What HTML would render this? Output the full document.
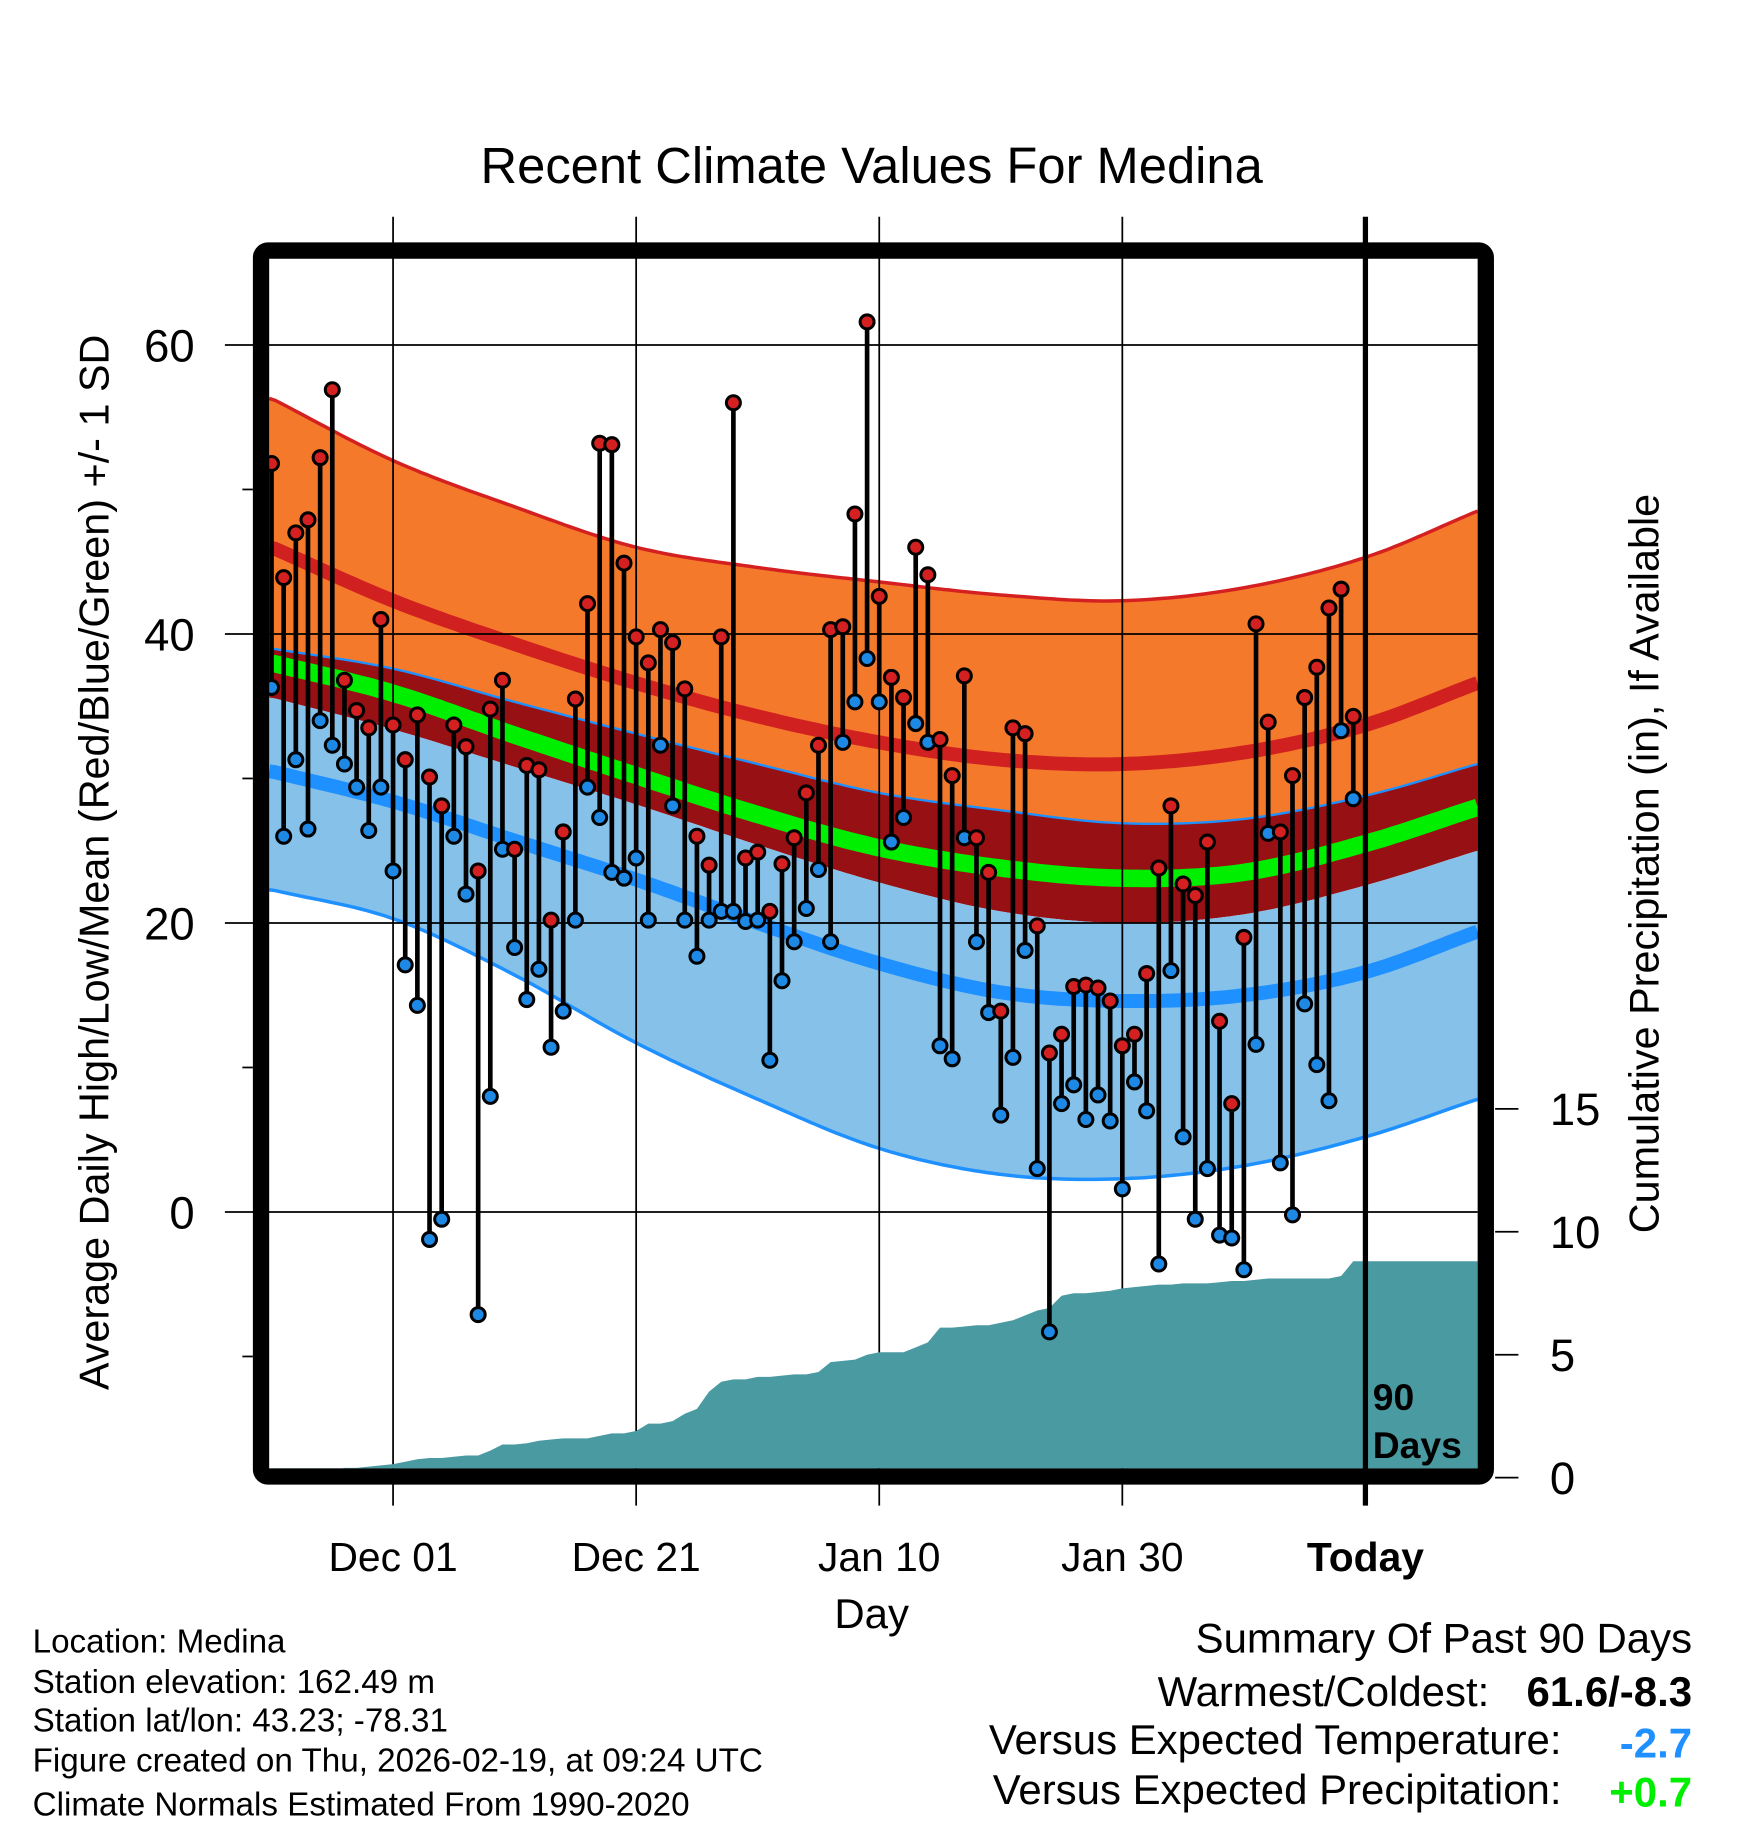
<!DOCTYPE html>
<html><head><meta charset="utf-8"><style>
html,body{margin:0;padding:0;background:#fff}
svg{display:block;font-family:"Liberation Sans",sans-serif}
</style></head><body>
<svg id="chart" width="1748" height="1828" viewBox="0 0 1500 1568.6" xmlns="http://www.w3.org/2000/svg">
<text x="748" y="157" font-size="43.5" text-anchor="middle">Recent Climate Values For Medina</text>
<g id="bands"></g>
<g id="grid"></g>
<g id="precip"></g>
<g id="marks"></g>
<rect x="224" y="215" width="1051" height="1052" rx="6" fill="none" stroke="#000" stroke-width="14"/>
<g id="axes"></g>
<text transform="translate(93,740) rotate(-90)" font-size="35.5" text-anchor="middle">Average Daily High/Low/Mean (Red/Blue/Green) +/- 1 SD</text>
<text transform="translate(1423,741) rotate(-90)" font-size="35.5" text-anchor="middle">Cumulative Precipitation (in), If Available</text>
<text x="748" y="1397" font-size="36" text-anchor="middle">Day</text>
<text x="1178" y="1210" font-size="32" font-weight="bold">90</text>
<text x="1178" y="1251" font-size="32" font-weight="bold">Days</text>
<g font-size="28.5">
<text x="28" y="1418">Location: Medina</text>
<text x="28" y="1453">Station elevation: 162.49 m</text>
<text x="28" y="1486">Station lat/lon: 43.23; -78.31</text>
<text x="28" y="1520">Figure created on Thu, 2026-02-19, at 09:24 UTC</text>
<text x="28" y="1558">Climate Normals Estimated From 1990-2020</text>
</g>
<g font-size="36">
<text x="1452" y="1418" text-anchor="end">Summary Of Past 90 Days</text>
<text x="1278" y="1464" text-anchor="end">Warmest/Coldest:</text>
<text x="1452" y="1464" text-anchor="end" font-weight="bold">61.6/-8.3</text>
<text x="1340" y="1505" text-anchor="end">Versus Expected Temperature:</text>
<text x="1452" y="1508" text-anchor="end" font-weight="bold" fill="#1e90ff">-2.7</text>
<text x="1340" y="1548" text-anchor="end">Versus Expected Precipitation:</text>
<text x="1452" y="1550" text-anchor="end" font-weight="bold" fill="#00ee00">+0.7</text>
</g>
</svg>
<script>
const normalDays=[0,10,20,30,40,50,60,70,80,90,99.2];
const highPlusSD=[56.3,52.0,48.8,46.0,44.6,43.6,42.7,42.3,43.2,45.3,48.5];
const highMean=[46,42.3,39.3,36.6,34.3,32.5,31.3,31.0,31.8,33.7,36.6];
const lowPlusSD=[39,37.6,35.3,33.1,31,29,27.8,26.9,27.2,28.8,31];
const meanTemp=[38,35.9,33,30.2,27.5,25.2,23.8,23.1,23.5,25.5,28];
const highMinusSD=[35.6,33.4,30.8,28.2,25.4,22.8,20.8,20.0,20.6,22.6,25.0];
const lowMean=[30.5,28.4,25.7,23,20,17.2,15.2,14.6,15.0,16.6,19.4];
const lowMinusSD=[22.3,20.3,16.4,11.7,7.8,4.4,2.6,2.3,3.2,5.2,7.8];
const highs=[51.8,43.9,47,47.9,52.2,56.9,36.8,34.7,33.5,41,33.7,31.3,34.4,30.1,28.1,33.7,32.2,23.6,34.8,36.8,25.1,30.9,30.6,20.2,26.3,35.5,42.1,53.2,53.1,44.9,39.8,38,40.3,39.4,36.2,26,24,39.8,56,24.5,24.9,20.8,24.1,25.9,29,32.3,40.3,40.5,48.3,61.6,42.6,37,35.6,46,44.1,32.7,30.2,37.1,25.9,23.5,13.9,33.5,33.1,19.8,11,12.3,15.6,15.7,15.5,14.6,11.5,12.3,16.5,23.8,28.1,22.7,21.9,25.6,13.2,7.5,19,40.7,33.9,26.3,30.2,35.6,37.7,41.8,43.1,34.3];
const lows=[36.3,26,31.3,26.5,34,32.3,31,29.4,26.4,29.4,23.6,17.1,14.3,-1.9,-0.5,26,22,-7.1,8,25.1,18.3,14.7,16.8,11.4,13.9,20.2,29.4,27.3,23.5,23.1,24.5,20.2,32.3,28.1,20.2,17.7,20.2,20.8,20.8,20.1,20.2,10.5,16,18.7,21,23.7,18.7,32.5,35.3,38.3,35.3,25.6,27.3,33.8,32.5,11.5,10.6,25.9,18.7,13.8,6.7,10.7,18.1,3,-8.3,7.5,8.8,6.4,8.1,6.3,1.6,9,7,-3.6,16.7,5.2,-0.5,3,-1.6,-1.8,-4,11.6,26.2,3.4,-0.2,14.4,10.2,7.7,33.3,28.6];
const precipCum=[0,0,0,0,0,0.3,0.4,0.4,0.45,0.5,0.55,0.65,0.75,0.8,0.8,0.85,0.9,0.9,1.1,1.35,1.35,1.4,1.5,1.55,1.6,1.6,1.6,1.7,1.8,1.8,1.9,2.2,2.2,2.3,2.6,2.8,3.5,3.9,4.0,4.0,4.1,4.1,4.15,4.2,4.2,4.3,4.7,4.75,4.8,5.0,5.1,5.1,5.1,5.3,5.5,6.1,6.1,6.15,6.2,6.2,6.3,6.4,6.6,6.8,6.9,7.4,7.5,7.5,7.55,7.6,7.7,7.75,7.8,7.85,7.85,7.9,7.9,7.9,7.95,8.0,8.0,8.05,8.1,8.1,8.1,8.1,8.1,8.1,8.2,8.8];
const yTicks=[60,40,20,0];
const yMinor=[50,30,10,-10];
const pTicks=[0,5,10,15];
const xTickLabels=["Dec 01","Dec 21","Jan 10","Jan 30","Today"];
const xTickDays=[10,30,50,70,90];

const NS="http://www.w3.org/2000/svg";
const X=d=>233+d*10.43;
const Y=v=>1040-12.4*v;
const P=p=>1268-21.1*p;
const L=231,R=1268,T=222,B=1260;
function mk(tag,attrs,parent){const e=document.createElementNS(NS,tag);for(const k in attrs)e.setAttribute(k,attrs[k]);parent.appendChild(e);return e;}
function interp(arr,d){const n=normalDays.length;
for(let i=0;i<n-1;i++){if(d<=normalDays[i+1]||i===n-2){const x0=normalDays[i],x1=normalDays[i+1],h=x1-x0,t=Math.max(0,Math.min(1,(d-x0)/h));
const m=j=>{if(j===0)return (arr[1]-arr[0])/(normalDays[1]-normalDays[0]);if(j===n-1)return (arr[n-1]-arr[n-2])/(normalDays[n-1]-normalDays[n-2]);return (arr[j+1]-arr[j-1])/(normalDays[j+1]-normalDays[j-1]);};
const t2=t*t,t3=t2*t;return (2*t3-3*t2+1)*arr[i]+(t3-2*t2+t)*h*m(i)+(-2*t3+3*t2)*arr[i+1]+(t3-t2)*h*m(i+1);}}
return arr[n-1];}
function curve(arr){const pts=[];for(let d=-0.2;d<=99.2;d+=0.5){pts.push([Math.max(L,X(d)).toFixed(1),Y(interp(arr,d)).toFixed(1)]);}pts.push([R,Y(interp(arr,99.2)).toFixed(1)]);return pts;}
function band(a,b,fill,name){const up=curve(a),dn=curve(b).reverse();const d='M'+up.map(p=>p.join(',')).join('L')+'L'+dn.map(p=>p.join(',')).join('L')+'Z';const e=mk('path',{d:d,fill:fill},document.getElementById('bands'));

}
function line(a,stroke,w,name){const d='M'+curve(a).map(p=>p.join(',')).join('L');const e=mk('path',{d:d,fill:'none',stroke:stroke,'stroke-width':w},document.getElementById('bands'));

}
band(highPlusSD,lowPlusSD,'#f5792b','orange-band');
band(lowPlusSD,highMinusSD,'#971014','darkred-band');
band(highMinusSD,lowMinusSD,'#85c1e8','lightblue-band');
line(highPlusSD,'#d42020',3,'high-plus-sd-line');
line(lowMinusSD,'#1e90ff',3,'low-minus-sd-line');
line(lowPlusSD,'#1e90ff',2,'low-plus-sd-line');
line(highMean,'#d02020',12,'high-mean-line');
line(lowMean,'#1e90ff',12,'low-mean-line');
line(meanTemp,'#00ee00',15,'mean-line');

const grid=document.getElementById('grid');
yTicks.forEach(v=>{const e=mk('line',{x1:193,x2:R,y1:Y(v),y2:Y(v),stroke:'#000','stroke-width':1.5},grid);

});
xTickDays.forEach((d,i)=>{if(i<4){const e=mk('line',{x1:X(d),x2:X(d),y1:186,y2:1292,stroke:'#000','stroke-width':1.5},grid);

}});

const pg=document.getElementById('precip');
let pd='M'+X(0)+','+P(0);
precipCum.forEach((p,i)=>{pd+='L'+X(i)+','+P(p);});
pd+='L'+R+','+P(precipCum[precipCum.length-1])+'L'+R+','+B+'L'+X(0)+','+B+'Z';
const pe=mk('path',{d:pd,fill:'#4a9aa2'},pg);



const mg=document.getElementById('marks');
highs.forEach((h,i)=>{const x=X(i);
const s=mk('line',{x1:x,x2:x,y1:Y(h),y2:Y(lows[i]),stroke:'#000','stroke-width':4},mg);

});
highs.forEach((h,i)=>{const x=X(i);
const c1=mk('circle',{cx:x,cy:Y(lows[i]),r:6,fill:'#1e88e5',stroke:'#000','stroke-width':2.6},mg);


const c2=mk('circle',{cx:x,cy:Y(h),r:6,fill:'#d42020',stroke:'#000','stroke-width':2.6},mg);

});
const tl=mk('line',{x1:X(90),x2:X(90),y1:186,y2:1292,stroke:'#000','stroke-width':4.5},mg);



const ax=document.getElementById('axes');
yTicks.forEach(v=>{const t=mk('text',{x:167,y:Y(v)+14,'font-size':39,'text-anchor':'end'},ax);t.textContent=v;

});
yMinor.forEach(v=>{const e=mk('line',{x1:208,x2:217,y1:Y(v),y2:Y(v),stroke:'#000','stroke-width':1.5},ax);

});
pTicks.forEach(p=>{const e=mk('line',{x1:1283,x2:1303,y1:P(p),y2:P(p),stroke:'#000','stroke-width':1.5},ax);


const t=mk('text',{x:1330,y:P(p)+14,'font-size':39},ax);t.textContent=p;

});
xTickLabels.forEach((s,i)=>{const t=mk('text',{x:X(xTickDays[i]),y:1348,'font-size':35,'text-anchor':'middle'},ax);t.textContent=s;if(s==='Today')t.setAttribute('font-weight','bold');

});
</script>
</body></html>
